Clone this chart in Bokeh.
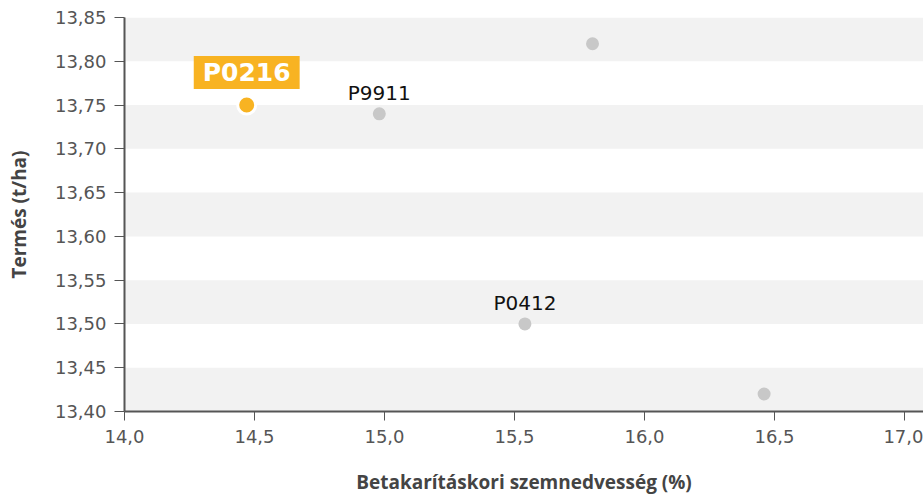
from bokeh.plotting import figure
from bokeh.models import (ColumnDataSource, LabelSet, Label, FixedTicker,
                          CustomJSTickFormatter, Range1d, BoxAnnotation)
from bokeh.core.properties import value
from bokeh.embed import file_html
from bokeh.resources import INLINE

# ---- data ----
hybrids = ["P0216", "P9911", "", "P0412", ""]
moisture = [14.47, 14.98, 15.80, 15.54, 16.46]
yield_t = [13.75, 13.74, 13.82, 13.50, 13.42]
highlight = "P0216"
x_ticks = [14.0, 14.5, 15.0, 15.5, 16.0, 16.5, 17.0]
y_ticks = [13.40, 13.45, 13.50, 13.55, 13.60, 13.65, 13.70, 13.75, 13.80, 13.85]
x_title = "Betakarításkori szemnedvesség (%)"
y_title = "Termés (t/ha)"

TICK_FONT = "DejaVu Sans"
TITLE_FONT = "Open Sans"
ORANGE = "#f8b322"
GREY_DOT = "#c8c8c8"
AXIS = "#555555"

others = [i for i, h in enumerate(hybrids) if h != highlight]
hi = hybrids.index(highlight)

src = ColumnDataSource(dict(
    x=[moisture[i] for i in others],
    y=[yield_t[i] for i in others],
    name=[hybrids[i] for i in others],
))

p = figure(width=923, height=497, output_backend="svg", toolbar_location=None,
           x_range=Range1d(14.0, 17.073), y_range=Range1d(13.40, 13.85),
           min_border_left=124, min_border_right=0, min_border_top=17,
           min_border_bottom=86)
p.outline_line_color = None
p.background_fill_color = "white"
p.grid.grid_line_color = None

for i in range(0, len(y_ticks) - 1, 2):
    p.add_layout(BoxAnnotation(bottom=y_ticks[i], top=y_ticks[i + 1],
                               fill_color="#f2f2f2", fill_alpha=1,
                               line_color=None, level="underlay"))

p.scatter("x", "y", source=src, size=13, fill_color=GREY_DOT, line_color=None)
p.add_layout(LabelSet(x="x", y="y", text="name", source=src,
                      text_align="center", text_baseline="alphabetic",
                      y_offset=14, text_font_size="20px", text_color="#111111",
                      text_font=value(TICK_FONT)))

p.scatter([moisture[hi]], [yield_t[hi]], size=18, fill_color=ORANGE,
          line_color="white", line_width=3)
p.add_layout(Label(x=moisture[hi], y=yield_t[hi], text=highlight,
                   text_align="center", text_baseline="bottom", y_offset=16,
                   text_font_size="25px", text_font_style="bold",
                   text_color="white", text_font=TICK_FONT,
                   background_fill_color=ORANGE,
                   padding=dict(x=9, y=2)))

for ax, ticks, fmt in ((p.xaxis[0], x_ticks, 1), (p.yaxis[0], y_ticks, 2)):
    ax.ticker = FixedTicker(ticks=ticks)
    ax.formatter = CustomJSTickFormatter(
        code="return tick.toFixed(%d).replace('.', ',');" % fmt)
    ax.minor_tick_line_color = None
    ax.axis_line_color = AXIS
    ax.axis_line_width = 2
    ax.major_tick_line_color = AXIS
    ax.major_tick_line_width = 1
    ax.major_tick_in = 0
    ax.major_label_text_font = TICK_FONT
    ax.major_label_text_font_size = "18px"
    ax.major_label_text_color = AXIS
    ax.axis_label_text_font = TITLE_FONT
    ax.axis_label_text_font_size = "19px"
    ax.axis_label_text_font_style = "bold"
    ax.axis_label_text_color = "#444444"

p.xaxis.major_tick_out = 9
p.yaxis.major_tick_out = 10
p.xaxis.major_label_standoff = 9
p.yaxis.major_label_standoff = 8
p.yaxis.axis_label = y_title
p.yaxis.axis_label_standoff = 20
p.xaxis.axis_label = x_title
p.xaxis.axis_label_standoff = 23

open("out.html", "w").write(file_html(p, INLINE))
